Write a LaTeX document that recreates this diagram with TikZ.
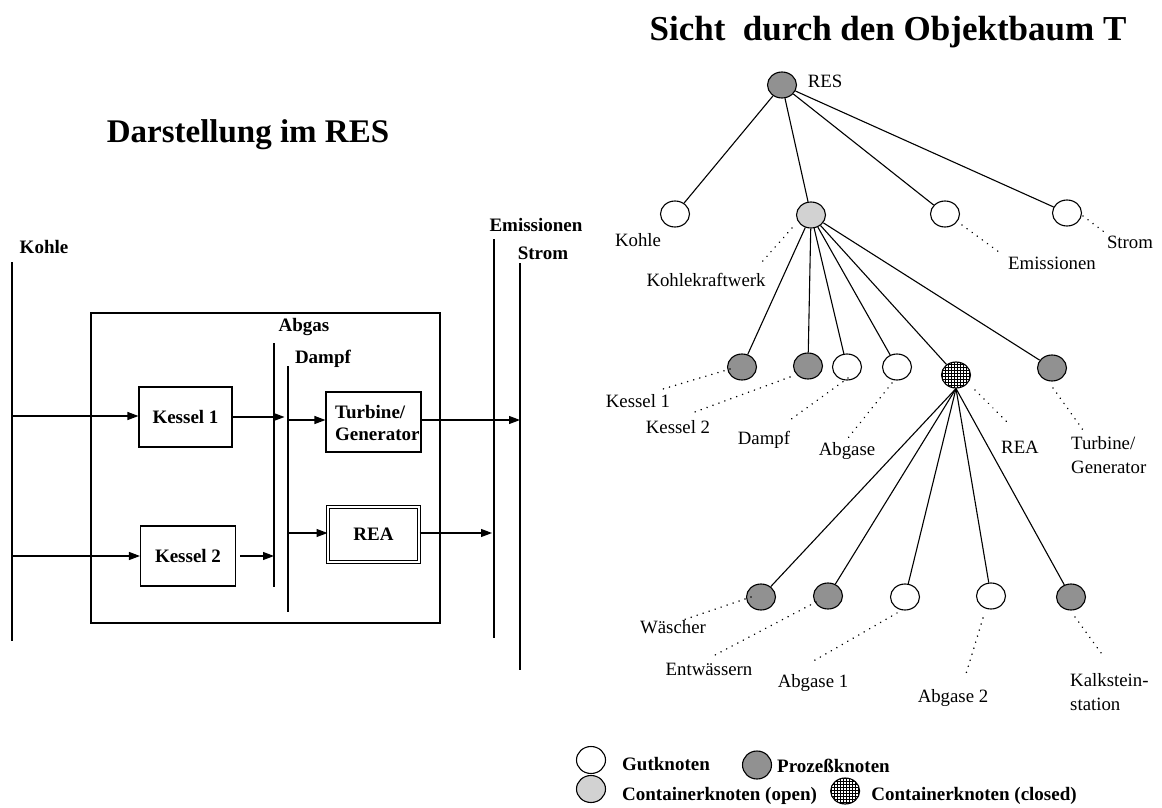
\documentclass[tikz,border=0pt]{standalone}
\usepackage{fontspec}
\setmainfont{Liberation Serif}
\usetikzlibrary{arrows.meta,shapes.geometric,patterns,calc}
\definecolor{procgray}{RGB}{145,145,145}
\definecolor{contgray}{RGB}{210,210,210}
\begin{document}
\begin{tikzpicture}[x=1pt,y=-1pt,
  blbl/.style={font={\fontsize{19}{22}\selectfont\bfseries}, inner sep=0pt},
  rlbl/.style={font={\fontsize{18.8}{24}\selectfont}, inner sep=0pt},
  stream/.style={line width=1.2pt},
  arr/.style={line width=1.1pt, -{Triangle[length=11pt,width=8pt]}},
  box/.style={draw, line width=1.1pt, inner sep=0pt, blbl},
  tn/.style={ellipse, draw, line width=1.1pt, minimum width=29pt, minimum height=26pt, inner sep=0pt},
  gut/.style={tn, fill=white},
  proc/.style={tn, fill=procgray},
  copen/.style={tn, fill=contgray},
  cclosed/.style={tn, preaction={fill=white}, pattern=grid},
  tedge/.style={line width=1.1pt},
  dotl/.style={line width=1.7pt, line cap=round, dash pattern=on 0.01pt off 6.3pt}
]
\useasboundingbox (0,0) rectangle (1162,808);

% ---------- titles ----------
\node[font={\fontsize{33}{38}\selectfont\bfseries}, inner sep=0pt] (t1) at (248,135) {Darstellung im RES};
\node[font={\fontsize{35}{40}\selectfont\bfseries}, inner sep=0pt] (t2) at (888,32) {Sicht\ \ durch den Objektbaum T};

% ---------- plant scheme ----------
\node[draw, line width=1.1pt, minimum width=349pt, minimum height=310pt] (plant) at (265.5,468) {};

% stream lines
\coordinate (kohleT) at (12,262);  \coordinate (kohleB) at (12,641);
\coordinate (emisT)  at (494,239); \coordinate (emisB)  at (494,638);
\coordinate (stromT) at (520,263); \coordinate (stromB) at (520,670);
\coordinate (abgT)   at (274,343); \coordinate (abgB)   at (274,587);
\coordinate (dampT)  at (288,366); \coordinate (dampB)  at (288,612);
\draw[stream] (kohleT) -- (kohleB);
\draw[stream] (emisT) -- (emisB);
\draw[stream] (stromT) -- (stromB);
\draw[stream] (abgT) -- (abgB);
\draw[stream] (dampT) -- (dampB);

\node[blbl] (lkohle) at (44,247) {Kohle};
\node[blbl] (lemis)  at (536,225) {Emissionen};
\node[blbl] (lstrom) at (543,253) {Strom};
\node[blbl] (labg)   at (304,327) {Abgas};
\node[blbl] (ldamp)  at (323,359) {Dampf};

% process boxes
\node[box, minimum width=93pt, minimum height=60pt] (k1box) at (185.5,417) {Kessel 1};
\node[box, minimum width=95pt, minimum height=60pt] (k2box) at (188,556) {Kessel 2};
\node[box, minimum width=95pt, minimum height=60pt] (tgbox) at (373.5,422) {};
\node[blbl, align=left, anchor=west] (tgtext) at (335,422.5) {Turbine/\\Generator};
\node[box, double, double distance=2.4pt, line width=1pt, minimum width=91pt, minimum height=55pt] (reabox) at (373.5,534.5) {REA};

% flows
\coordinate (kin1) at (12,416);
\coordinate (kin2) at (12,556);
\coordinate (k1out) at (284.5,417);
\coordinate (k2out) at (274,556);
\coordinate (d1) at (288,420);
\coordinate (d2) at (288,533);
\coordinate (s1) at (520,420);
\coordinate (e1) at (492,533);
\draw[arr] (kin1) -- (kin1 -| k1box.west);
\draw[arr] (kin2) -- (kin2 -| k2box.west);
\draw[arr] (k1box.east) -- (k1out);
\draw[arr] ([xshift=4pt]k2box.east) -- (k2out);
\draw[arr] (d1) -- (d1 -| tgbox.west);
\draw[arr] (d2) -- (d2 -| reabox.west);
\draw[arr] (s1 -| tgbox.east) -- (s1);
\draw[arr] (e1 -| reabox.east) -- (e1);

% ---------- object tree ----------
\node[proc]    (nres)   at (782,85) {};
\node[gut]     (nkohle) at (675,214) {};
\node[copen]   (nkkw)   at (811,215) {};
\node[gut]     (nemis)  at (945,214) {};
\node[gut]     (nstrom) at (1067,213) {};
\node[proc]    (nk1)    at (742,367) {};
\node[proc]    (nk2)    at (808,366) {};
\node[gut]     (ndmp)   at (847,367) {};
\node[gut]     (nabg)   at (897,367) {};
\node[cclosed] (nrea)   at (956,375) {};
\node[proc]    (nturb)  at (1052,368) {};
\node[proc]    (nwasch) at (761,597) {};
\node[proc]    (nentw)  at (828,596) {};
\node[gut]     (nab1)   at (905,597) {};
\node[gut]     (nab2)   at (991,596) {};
\node[proc]    (nkalk)  at (1071,597) {};

% tree edges
\foreach \c in {nkohle,nkkw,nemis,nstrom}
  \draw[tedge] (nres) -- (\c);
\foreach \c in {nk1,nk2,ndmp,nabg,nrea,nturb}
  \draw[tedge] (nkkw) -- (\c);
\foreach \c in {nwasch,nentw,nab1,nab2,nkalk}
  \draw[tedge] (nrea.south) -- (\c);

% tree labels
\node[rlbl] (lres)  at (825,81)  {RES};
\node[rlbl] (lkoh)  at (638,240) {Kohle};
\node[rlbl] (lkkw)  at (706,280) {Kohlekraftwerk};
\node[rlbl] (lem)   at (1052,263) {Emissionen};
\node[rlbl] (lst)   at (1130,242) {Strom};
\node[rlbl] (lk1)   at (638,401) {Kessel 1};
\node[rlbl] (lk2)   at (678,427) {Kessel 2};
\node[rlbl] (ldm)   at (764,440) {Dampf};
\node[rlbl] (lab)   at (847,451) {Abgase};
\node[rlbl] (lrea)  at (1020,447) {REA};
\node[rlbl, align=left, anchor=west] (ltg) at (1071,455) {Turbine/\\Generator};
\node[rlbl] (lwa)   at (673,627) {Wäscher};
\node[rlbl] (len)   at (709,669) {Entwässern};
\node[rlbl] (la1)   at (813,683) {Abgase 1};
\node[rlbl] (la2)   at (953,698) {Abgase 2};
\node[rlbl, align=left, anchor=west] (lka) at (1070,692) {Kalkstein-\\station};

% dotted label leaders
\draw[dotl] ($(nkkw)+(-19,13)$) -- ($(lkkw.north east)+(-3,-12)$);
\draw[dotl] ($(nemis)+(17,11)$) -- ($(lem.north west)+(-7,-3)$);
\draw[dotl] ($(nstrom)+(16,3)$) -- ($(lst.north west)+(-2,-3)$);
\draw[dotl] ($(nk1)+(-12,2)$) -- ($(nk1)+(-79,22)$);
\draw[dotl] ($(nk2)+(-18,11)$) -- ($(nk2)+(-116,47)$);
\draw[dotl] ($(ndmp)+(1,11)$) -- ($(ndmp)+(-57,53)$);
\draw[dotl] ($(nabg)+(-5,16)$) -- ($(nabg)+(-49,71)$);
\draw[dotl] ($(nrea)+(19,15)$) -- ($(nrea)+(52,48)$);
\draw[dotl] ($(nturb)+(1,20)$) -- ($(nturb)+(31,62)$);
\draw[dotl] ($(nwasch)+(-10,0)$) -- ($(nwasch)+(-78,23)$);
\draw[dotl] ($(nentw)+(-12,6)$) -- ($(nentw)+(-113,59)$);
\draw[dotl] ($(nab1)+(-8,16)$) -- ($(nab1)+(-95,66)$);
\draw[dotl] ($(nab2)+(-8,22)$) -- ($(nab2)+(-26,81)$);
\draw[dotl] ($(nkalk)+(4,20)$) -- ($(nkalk)+(33,60)$);

% ---------- legend ----------
\node[gut, minimum height=27pt] (lgGut) at (591,760) {};
\node[blbl, anchor=west] (lgGutT) at (622,764) {Gutknoten};
\node[proc, minimum height=28pt] (lgProc) at (757,765) {};
\node[blbl, anchor=west] (lgProcT) at (777,766) {Prozeßknoten};
\node[copen, minimum height=27pt] (lgOpen) at (591,789) {};
\node[blbl, anchor=west] (lgOpenT) at (622,796) {Containerknoten (open)};
\node[cclosed] (lgClosed) at ($(lgOpenT.east)+(28,-5)$) {};
\node[blbl, anchor=west] (lgClosedT) at ($(lgClosed.east)+(11,5)$) {Containerknoten (closed)};
\end{tikzpicture}
\end{document}
